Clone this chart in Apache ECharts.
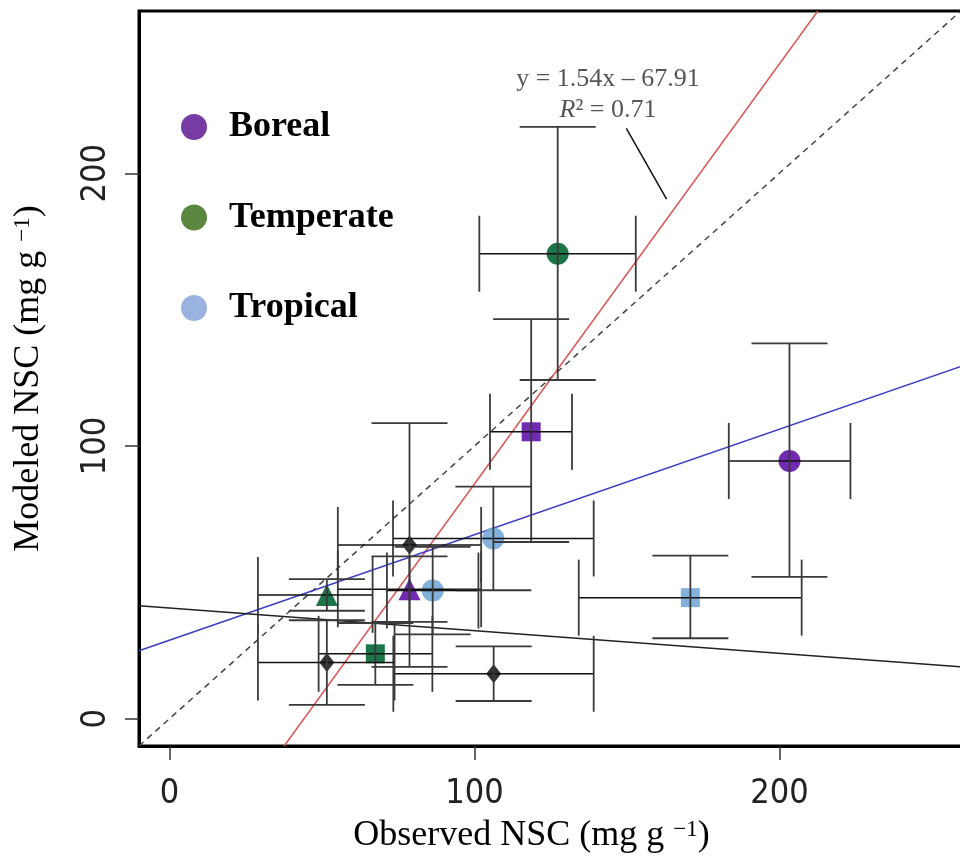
<!DOCTYPE html>
<html><head><meta charset="utf-8">
<script src="https://cdn.jsdelivr.net/npm/echarts@6/dist/echarts.min.js"></script>
<style>html,body{margin:0;padding:0;background:#fff}#c{width:960px;height:862px}</style>
</head><body><div id="c"></div>
<script>
// ---- data ----
const xTicks = [0, 100, 200];
const yTicks = [0, 100, 200];
const legendNames = ['Boreal', 'Temperate', 'Tropical'];

// Boreal
const borealX = [118.6, 203.3, 78.7];
const borealY = [105.2, 94.5, 47.5];
const borealShape = ['rect', 'circle', 'triangle'];
const borealXLo = [105.1, 183.4, 55.2];
const borealXHi = [132.0, 223.3, 102.2];
const borealYLo = [64.8, 52.0, 35.5];
const borealYHi = [146.5, 137.6, 59.5];

// Temperate
const temperateX = [127.3, 51.6, 67.5];
const temperateY = [170.5, 45.4, 23.8];
const temperateShape = ['circle', 'triangle', 'rect'];
const temperateXLo = [101.6, 29.0, 48.9];
const temperateXHi = [152.9, 66.6, 86.2];
const temperateYLo = [124.2, 39.6, 12.4];
const temperateYHi = [217.0, 51.2, 35.1];

// Tropical
const tropicalX = [170.8, 106.2, 86.3];
const tropicalY = [44.4, 66.1, 47.0];
const tropicalShape = ['rect', 'circle', 'circle'];
const tropicalXLo = [134.2, 73.3, 71.3];
const tropicalXHi = [207.3, 139.1, 101.3];
const tropicalYLo = [29.5, 47.1, 30.9];
const tropicalYHi = [59.8, 85.1, 63.0];

// Unassigned (black diamonds)
const otherX = [78.7, 106.3, 51.6];
const otherY = [63.7, 16.5, 20.6];
const otherShape = ['diamond', 'diamond', 'diamond'];
const otherXLo = [55.2, 73.4, 29.0];
const otherXHi = [102.2, 139.1, 73.8];
const otherYLo = [19.0, 6.5, 5.1];
const otherYHi = [108.4, 26.5, 36.1];

// reference / fitted lines (end points)
const oneToOne = [[-10, -10], [270, 270]];
const redFit = [[37.6, -10], [212.6, 259.5]];
const blueFit = [[-10, 24.9], [262.5, 130.3]];
const blackFit = [[-10, 41.4], [262.5, 18.8]];
const pointer = [[149.8, 216.5], [163.0, 190.5]];
const eqText = 'y = 1.54x \u2013 67.91';
const r2Text = '{i|R}\u00b2 = 0.71';

// ---- build ----
const symSize = { circle: 22, rect: 19, triangle: 22, diamond: [15, 19] };
function pts(xs, ys, shapes) {
  return xs.map((x, i) => ({ value: [x, ys[i]], symbol: shapes[i], symbolSize: symSize[shapes[i]] }));
}
function errs(xs, ys, xl, xh, yl, yh) {
  return xs.map((x, i) => [x, ys[i], xl[i], xh[i], yl[i], yh[i]]);
}
const errData = [].concat(
  errs(borealX, borealY, borealXLo, borealXHi, borealYLo, borealYHi),
  errs(temperateX, temperateY, temperateXLo, temperateXHi, temperateYLo, temperateYHi),
  errs(tropicalX, tropicalY, tropicalXLo, tropicalXHi, tropicalYLo, tropicalYHi),
  errs(otherX, otherY, otherXLo, otherXHi, otherYLo, otherYHi)
);

const CAP = 38;
function renderErr(params, api) {
  const x = api.value(0), y = api.value(1);
  const c = api.coord([x, y]);
  const xl = api.coord([api.value(2), y])[0];
  const xh = api.coord([api.value(3), y])[0];
  const yl = api.coord([x, api.value(4)])[1];
  const yh = api.coord([x, api.value(5)])[1];
  const hs = { stroke: '#111', lineWidth: 1.5 };
  const vs = { stroke: '#3a3a3a', lineWidth: 1.8 };
  return {
    type: 'group',
    children: [
      { type: 'line', shape: { x1: xl, y1: c[1], x2: xh, y2: c[1] }, style: hs },
      { type: 'line', shape: { x1: xl, y1: c[1] - CAP, x2: xl, y2: c[1] + CAP }, style: vs },
      { type: 'line', shape: { x1: xh, y1: c[1] - CAP, x2: xh, y2: c[1] + CAP }, style: vs },
      { type: 'line', shape: { x1: c[0], y1: yl, x2: c[0], y2: yh }, style: vs },
      { type: 'line', shape: { x1: c[0] - CAP, y1: yl, x2: c[0] + CAP, y2: yl }, style: vs },
      { type: 'line', shape: { x1: c[0] - CAP, y1: yh, x2: c[0] + CAP, y2: yh }, style: vs }
    ]
  };
}

const serif = '"Liberation Serif", "Times New Roman", serif';
const sans = '"Liberation Sans Narrow", "DejaVu Sans Condensed", "Liberation Sans", sans-serif';

function lineSeries(data, color, type) {
  return {
    type: 'line', data: data, symbol: 'none', silent: true, z: 1,
    lineStyle: { color: color, width: 1.5, type: type || 'solid' },
    animation: false, clip: true
  };
}

const chart = echarts.init(document.getElementById('c'));
chart.setOption({
  animation: false,
  backgroundColor: '#fff',
  grid: { left: 139, width: 831, top: 11, bottom: 116, show: true, borderColor: '#000', borderWidth: 3,
    containLabel: false, outerBoundsMode: 'none' },
  xAxis: {
    type: 'value', min: -10, max: 262.5,
    splitLine: { show: false },
    axisLine: { show: true, onZero: false, lineStyle: { color: '#000', width: 3 } },
    axisTick: { show: true, length: 14, customValues: xTicks, lineStyle: { color: '#333', width: 1.5 } },
    axisLabel: { customValues: xTicks, margin: 31, fontFamily: sans, fontSize: 34, color: '#222' },
    name: 'Observed NSC (mg g {s|\u22121})', nameLocation: 'middle', nameGap: 72,
    nameTextStyle: { fontFamily: serif, fontSize: 36, color: '#000', padding: [0, 46, 0, 0],
      rich: { s: { fontFamily: serif, fontSize: 23, verticalAlign: 'top', color: '#000' } } }
  },
  yAxis: {
    type: 'value', min: -10, max: 259.5,
    splitLine: { show: false },
    axisLine: { show: true, onZero: false, lineStyle: { color: '#000', width: 3 } },
    axisTick: { show: true, length: 14, customValues: yTicks, lineStyle: { color: '#333', width: 1.5 } },
    axisLabel: { customValues: yTicks, margin: 26, rotate: 90, fontFamily: sans, fontSize: 34, color: '#222' },
    name: 'Modeled NSC (mg g {s|\u22121})', nameLocation: 'middle', nameGap: 92, nameRotate: 90,
    nameTextStyle: { fontFamily: serif, fontSize: 36, color: '#000',
      rich: { s: { fontFamily: serif, fontSize: 23, verticalAlign: 'top', color: '#000' } } }
  },
  legend: {
    data: [
      { name: legendNames[0], itemStyle: { color: '#7030A0' } },
      { name: legendNames[1], itemStyle: { color: '#538135' } },
      { name: legendNames[2], itemStyle: { color: '#8EAADB' } }
    ],
    orient: 'vertical', left: 176, top: 104, itemWidth: 60, itemHeight: 26, itemGap: 54.5,
    icon: 'circle', selectedMode: false,
    textStyle: { fontFamily: serif, fontWeight: 'bold', fontSize: 36, color: '#000', lineHeight: 26 }
  },
  graphic: [
    { type: 'text', x: 608, y: 79, z: 10,
      style: { text: eqText, fontFamily: serif, fontSize: 26, fill: '#555', align: 'center', verticalAlign: 'middle' } },
    { type: 'text', x: 608, y: 110, z: 10,
      style: { text: r2Text, fontFamily: serif, fontSize: 26, fill: '#555', align: 'center', verticalAlign: 'middle',
        rich: { i: { fontStyle: 'italic', fontFamily: serif, fontSize: 26, fill: '#555' } } } }
  ],
  series: [
    lineSeries(oneToOne, '#444', [6, 5]),
    lineSeries(redFit, '#d9585a'),
    lineSeries(blueFit, '#3b3bc4'),
    lineSeries(blackFit, '#222'),
    lineSeries(pointer, '#111'),
    { name: 'Boreal', type: 'scatter', z: 2, data: pts(borealX, borealY, borealShape),
      itemStyle: { color: '#6a1fae', opacity: 0.95 } },
    { name: 'Temperate', type: 'scatter', z: 2, data: pts(temperateX, temperateY, temperateShape),
      itemStyle: { color: '#0f6e3c', opacity: 0.95 } },
    { name: 'Tropical', type: 'scatter', z: 2, data: pts(tropicalX, tropicalY, tropicalShape),
      itemStyle: { color: '#74aad8', opacity: 0.9 } },
    { name: 'Other', type: 'scatter', z: 2, data: pts(otherX, otherY, otherShape),
      itemStyle: { color: '#000' } },
    { type: 'custom', z: 3, silent: true, renderItem: renderErr, data: errData,
      encode: { x: [0, 2, 3], y: [1, 4, 5] }, clip: false }
  ]
});
</script></body></html>
